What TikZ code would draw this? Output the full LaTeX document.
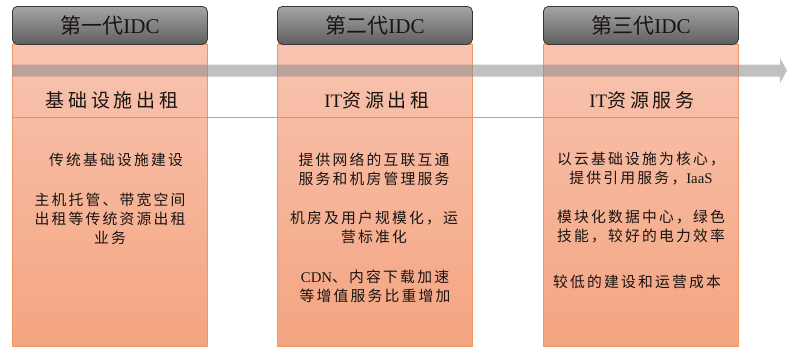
\documentclass[tikz,border=0pt]{standalone}
\usepackage{fontspec}
\setmainfont{Liberation Serif}
\newfontfamily\cjk{Noto Sans CJK SC}
\newfontfamily\cjksp[LetterSpace=15]{Noto Sans CJK SC}
\newfontfamily\cjksub[LetterSpace=20]{Noto Sans CJK SC}
\usetikzlibrary{positioning}
\definecolor{bodytop}{RGB}{248,196,176}
\definecolor{bodybot}{RGB}{244,164,128}
\definecolor{bodyedge}{RGB}{238,150,100}
\definecolor{hdrtop}{RGB}{165,165,165}
\definecolor{hdrbot}{RGB}{95,95,95}
\definecolor{hdredge}{RGB}{55,55,55}
\definecolor{txt}{RGB}{25,20,18}
\tikzset{
  x=1pt, y=-1pt,
  hdrbox/.style={draw=hdredge, line width=0.8pt, rounded corners=5pt,
    top color=hdrtop, bottom color=hdrbot, minimum width=195pt,
    minimum height=38pt, inner sep=0pt, anchor=north west},
  bodybox/.style={draw=bodyedge, line width=0.8pt, top color=bodytop,
    bottom color=bodybot, minimum width=195pt, minimum height=302pt,
    inner sep=0pt, anchor=north west},
  ttl/.style={text=txt, font=\fontsize{21}{24}\selectfont, inner sep=0pt},
  sub/.style={text=txt, font=\fontsize{19}{22}\selectfont, inner sep=0pt},
  bodytxt/.style={text=txt, font=\fontsize{14.8}{18.8}\selectfont, align=center, inner sep=0pt, anchor=north},
  band/.style={fill=black!45, fill opacity=0.55, draw=none},
  thinline/.style={draw=black!35, line width=1pt}
}
\begin{document}
\begin{tikzpicture}
\useasboundingbox (0,0) rectangle (787,349);
% bodies
\node[bodybox] (b1) at (12,44) {};
\node[bodybox] (b2) at (277,44) {};
\node[bodybox] (b3) at (543,44) {};
% headers
\node[hdrbox] (h1) at (12,6) {};
\node[hdrbox] (h2) at (277,6) {};
\node[hdrbox] (h3) at (543,6) {};
% band arrow
\coordinate (bs) at (12,70.5);
\coordinate (be) at (787,70.5);
\fill[band] (bs) ++(0,-6) -- ++(768,0) -- ++(0,-6.5) -- (be) -- ++(-7,12.5) -- ++(0,-6.5) -- ++(-768,0) -- cycle;
% thin line
\coordinate (ls) at (12,117);
\coordinate (le) at (739,117);
\draw[thinline] (ls) -- (le);
% titles
\node[ttl] (t1) at (110,25) {{\cjk 第一代}IDC};
\node[ttl] (t2) at (375,25) {{\cjk 第二代}IDC};
\node[ttl] (t3) at (641,25) {{\cjk 第三代}IDC};
% subtitles
\node[sub] (s1) at (112,100) {{\cjksub 基础设施出租}};
\node[sub] (s2) at (377,100) {IT{\cjksub 资源出租}};
\node[sub] (s3) at (642,100) {IT{\cjksub 资源服务}};
% body text col 1
\node[bodytxt] (c1a) at (116,153) {\cjksp 传统基础设施建设};
\node[bodytxt] (c1b) at (110,193) {\cjksp 主机托管、带宽空间\\\cjksp 出租等传统资源出租\\\cjksp 业务};
% col 2
\node[bodytxt] (c2a) at (374,153) {\cjksp 提供网络的互联互通\\\cjksp 服务和机房管理服务};
\node[bodytxt] (c2b) at (374,211) {\cjksp 机房及用户规模化，运\\\cjksp 营标准化};
\node[bodytxt] (c2c) at (375,270) {CDN{\cjksp 、内容下载加速}\\\cjksp 等增值服务比重增加};
% col 3
\node[bodytxt] (c3a) at (641,152) {\cjksp 以云基础设施为核心，\\{\cjksp 提供引用服务，}IaaS};
\node[bodytxt] (c3b) at (641,210) {\cjksp 模块化数据中心，绿色\\\cjksp 技能，较好的电力效率};
\node[bodytxt] (c3c) at (637,275) {\cjksp 较低的建设和运营成本};
\end{tikzpicture}
\end{document}
